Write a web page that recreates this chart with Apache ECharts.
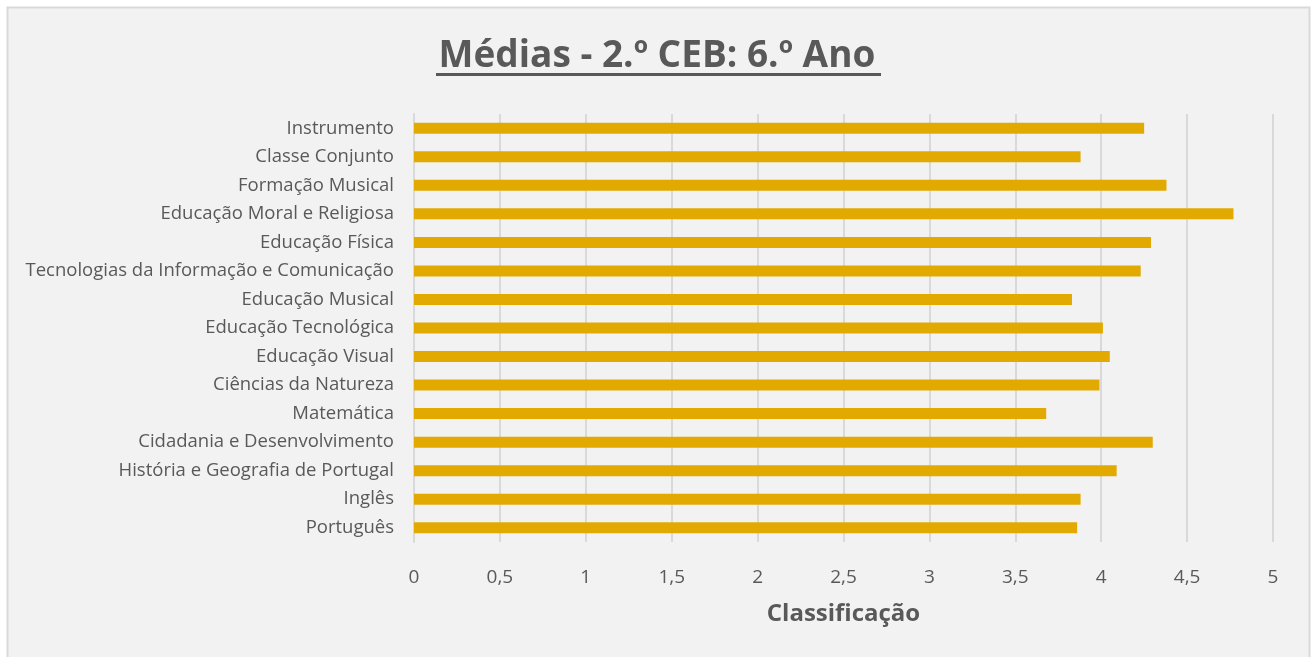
<!DOCTYPE html>
<html>
<head>
<meta charset="utf-8">
<script src="https://cdn.jsdelivr.net/npm/echarts@6/dist/echarts.min.js"></script>
<style>
  html, body { margin: 0; padding: 0; background: #ffffff; }
  #chart { width: 1314px; height: 657px; }
</style>
</head>
<body>
<div id="chart"></div>
<script>
// disciplinas (de baixo para cima, como o eixo de categorias do ECharts)
var disciplinas = [
    'Português',
    'Inglês',
    'História e Geografia de Portugal',
    'Cidadania e Desenvolvimento',
    'Matemática',
    'Ciências da Natureza',
    'Educação Visual',
    'Educação Tecnológica',
    'Educação Musical',
    'Tecnologias da Informação e Comunicação',
    'Educação Física',
    'Educação Moral e Religiosa',
    'Formação Musical',
    'Classe Conjunto',
    'Instrumento'
];

// médias
var medias = [3.86, 3.88, 4.09, 4.30, 3.68, 3.99, 4.05, 4.01, 3.83, 4.23, 4.29, 4.77, 4.38, 3.88, 4.25];

var titulo = 'Médias - 2.º CEB: 6.º Ano';
var nomeEixo = 'Classificação';

var fonte = '"Open Sans", "Noto Sans", sans-serif';
var cinza = '#595959';

function initChart() {
    var myChart = echarts.init(document.getElementById('chart'));

    var option = {
        backgroundColor: '#ffffff',
        textStyle: { fontFamily: fonte },
        title: {
            text: titulo,
            left: 'center',
            top: 33,
            textStyle: {
                fontFamily: fonte,
                fontSize: 37,
                fontWeight: 'bold',
                color: cinza
            }
        },
        graphic: [
            {
                type: 'rect',
                z: -10,
                silent: true,
                shape: { x: 7.5, y: 7.5, width: 1302, height: 665 },
                style: { fill: '#f2f2f2', stroke: '#d9d9d9', lineWidth: 2 }
            },
            {
                // sublinhado do título
                type: 'rect',
                silent: true,
                shape: { x: 436, y: 73, width: 445, height: 3 },
                style: { fill: cinza }
            }
        ],
        grid: {
            left: 414,
            right: 41,
            top: 114,
            bottom: 115,
            containLabel: false
        },
        xAxis: {
            type: 'value',
            min: 0,
            max: 5,
            interval: 0.5,
            name: nomeEixo,
            nameLocation: 'middle',
            nameGap: 60,
            nameTextStyle: {
                fontFamily: fonte,
                fontSize: 24,
                fontWeight: 'bold',
                color: cinza
            },
            axisLine: { show: false },
            axisTick: { show: false },
            axisLabel: {
                margin: 26,
                fontSize: 19,
                color: cinza,
                fontFamily: fonte,
                formatter: function (v) { return String(v).replace('.', ','); }
            },
            splitLine: {
                show: true,
                lineStyle: { color: '#d9d9d9', width: 2 }
            }
        },
        yAxis: {
            type: 'category',
            data: disciplinas,
            axisLine: { show: true, lineStyle: { color: '#d9d9d9', width: 2 } },
            axisTick: { show: false },
            axisLabel: {
                margin: 20,
                fontSize: 18.5,
                color: cinza,
                fontFamily: fonte
            }
        },
        series: [
            {
                name: 'Média',
                type: 'bar',
                data: medias,
                barWidth: 11,
                itemStyle: { color: '#e2aa00' },
                silent: true
            }
        ]
    };

    myChart.setOption(option);
}

window.addEventListener('load', initChart);
</script>
</body>
</html>
